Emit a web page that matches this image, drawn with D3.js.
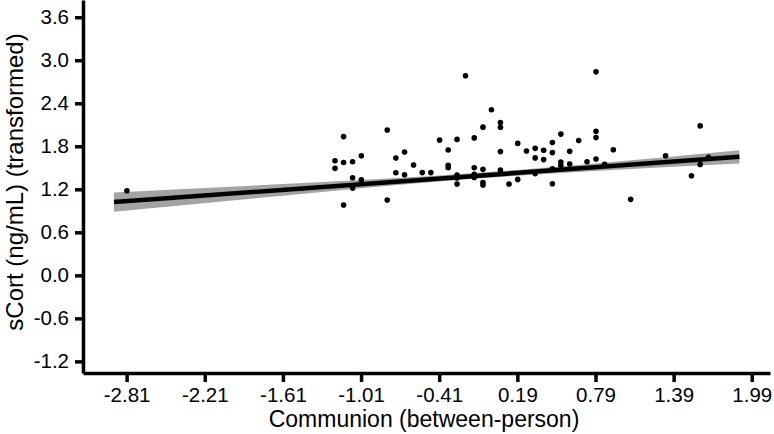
<!DOCTYPE html>
<html>
<head>
<meta charset="utf-8">
<script src="https://cdn.jsdelivr.net/npm/d3@7"></script>
<style>
  body { margin: 0; background: #fff; }
  text { font-family: "Liberation Sans", Arial, sans-serif; }
</style>
</head>
<body>
<div id="viz"></div>
<script>
  // points: communion (between-person) vs sCort
  var communion = [-2.808, -1.210, -1.210, -1.144, -1.144, -1.144, -1.075, -1.075, -1.075, -1.008,
                   -1.008, -0.809, -0.809, -0.743, -0.743, -0.676, -0.676, -0.607, -0.540, -0.474,
                   -0.407, -0.341, -0.341, -0.341, -0.273, -0.273, -0.273, -0.273, -0.208, -0.141,
                   -0.141, -0.141, -0.141, -0.074, -0.074, -0.074, -0.074, -0.009, 0.060, 0.060,
                   0.060, 0.060, 0.126, 0.193, 0.193, 0.260, 0.327, 0.327, 0.327, 0.392,
                   0.392, 0.459, 0.459, 0.459, 0.459, 0.524, 0.524, 0.524, 0.592, 0.592,
                   0.661, 0.725, 0.794, 0.794, 0.794, 0.794, 0.860, 0.927, 1.060, 1.328,
                   1.527, 1.594, 1.594, 1.658];
  var scort = [1.179, 1.598, 1.492, 1.935, 1.573, 0.980, 1.584, 1.361, 1.217, 1.667,
               1.333, 2.026, 1.050, 1.635, 1.430, 1.719, 1.402, 1.538, 1.433, 1.433,
               1.886, 1.747, 1.534, 1.500, 1.896, 1.398, 1.357, 1.273, 2.783, 1.917,
               1.500, 1.408, 1.366, 2.067, 1.478, 1.294, 1.259, 2.309, 2.130, 2.065,
               1.726, 1.468, 1.273, 1.840, 1.338, 1.733, 1.771, 1.638, 1.419, 1.744,
               1.614, 1.851, 1.712, 1.486, 1.277, 1.970, 1.580, 1.535, 1.729, 1.552,
               1.879, 1.584, 2.838, 2.008, 1.921, 1.621, 1.549, 1.751, 1.060, 1.667,
               1.389, 2.084, 1.547, 1.645];

  // fitted line and its confidence band
  var fitX = [-2.907, 1.895];
  var fitY = [1.022, 1.653];
  var bandX = [-2.907, -1.61, -0.41, 0.19, 0.79, 1.895];
  var bandLo = [0.887, 1.110, 1.307, 1.389, 1.456, 1.560];
  var bandHi = [1.157, 1.274, 1.393, 1.469, 1.560, 1.746];

  var xTicks = [-2.81, -2.21, -1.61, -1.01, -0.41, 0.19, 0.79, 1.39, 1.99];
  var yTicks = [-1.2, -0.6, 0.0, 0.6, 1.2, 1.8, 2.4, 3.0, 3.6];

  var margin = {top: 0, right: 4, bottom: 61, left: 83},
      width = 774 - margin.left - margin.right,
      height = 434 - margin.top - margin.bottom;

  var svg = d3.select("#viz")
    .append("svg")
      .attr("width", 774)
      .attr("height", 434)
    .append("g")
      .attr("transform", "translate(" + margin.left + "," + margin.top + ")");

  var x = d3.scaleLinear()
    .domain([-3.145, 2.13])
    .range([0, width]);

  var y = d3.scaleLinear()
    .domain([-1.362, 3.84])
    .range([height, 0]);

  // plain hyphen instead of d3's unicode minus
  function fmt(p) {
    return function (d) { return d3.format(p)(d).replace("\u2212", "-"); };
  }

  // band
  var band = bandX.map(function (d, i) { return {x: d, lo: bandLo[i], hi: bandHi[i]}; });
  svg.append("path")
    .datum(band)
    .attr("fill", "#a3a3a3")
    .attr("d", d3.area()
      .curve(d3.curveMonotoneX)
      .x(function (d) { return x(d.x); })
      .y0(function (d) { return y(d.lo); })
      .y1(function (d) { return y(d.hi); }));

  // regression line
  svg.append("line")
    .attr("x1", x(fitX[0])).attr("y1", y(fitY[0]))
    .attr("x2", x(fitX[1])).attr("y2", y(fitY[1]))
    .attr("stroke", "#000")
    .attr("stroke-width", 4.5);

  // dots
  svg.append("g")
    .selectAll("circle")
    .data(communion)
    .enter()
    .append("circle")
      .attr("cx", function (d) { return x(d); })
      .attr("cy", function (d, i) { return y(scort[i]); })
      .attr("r", 2.8)
      .style("fill", "#000");

  // axes
  var xAxis = svg.append("g")
    .attr("transform", "translate(0," + height + ")")
    .call(d3.axisBottom(x).tickValues(xTicks).tickFormat(fmt(".2f"))
      .tickSize(9).tickSizeOuter(0).tickPadding(5));

  var yAxis = svg.append("g")
    .call(d3.axisLeft(y).tickValues(yTicks).tickFormat(fmt(".1f"))
      .tickSize(8).tickSizeOuter(0).tickPadding(6));

  [xAxis, yAxis].forEach(function (a) {
    a.select(".domain").attr("stroke", "#000").attr("stroke-width", 3.5);
    a.selectAll(".tick line").attr("stroke", "#000").attr("stroke-width", 3.5);
    a.selectAll(".tick text")
      .attr("fill", "#000")
      .style("font-size", "20.5px")
      .style("font-family", "'Liberation Sans', Arial, sans-serif");
  });

  // axis titles
  svg.append("text")
    .attr("x", 424 - margin.left)
    .attr("y", 427)
    .attr("text-anchor", "middle")
    .style("font-size", "23px")
    .text("Communion (between-person)");

  svg.append("text")
    .attr("transform", "translate(" + (23 - margin.left) + ",182) rotate(-90)")
    .attr("text-anchor", "middle")
    .style("font-size", "24px")
    .text("sCort (ng/mL) (transformed)");
</script>
</body>
</html>
